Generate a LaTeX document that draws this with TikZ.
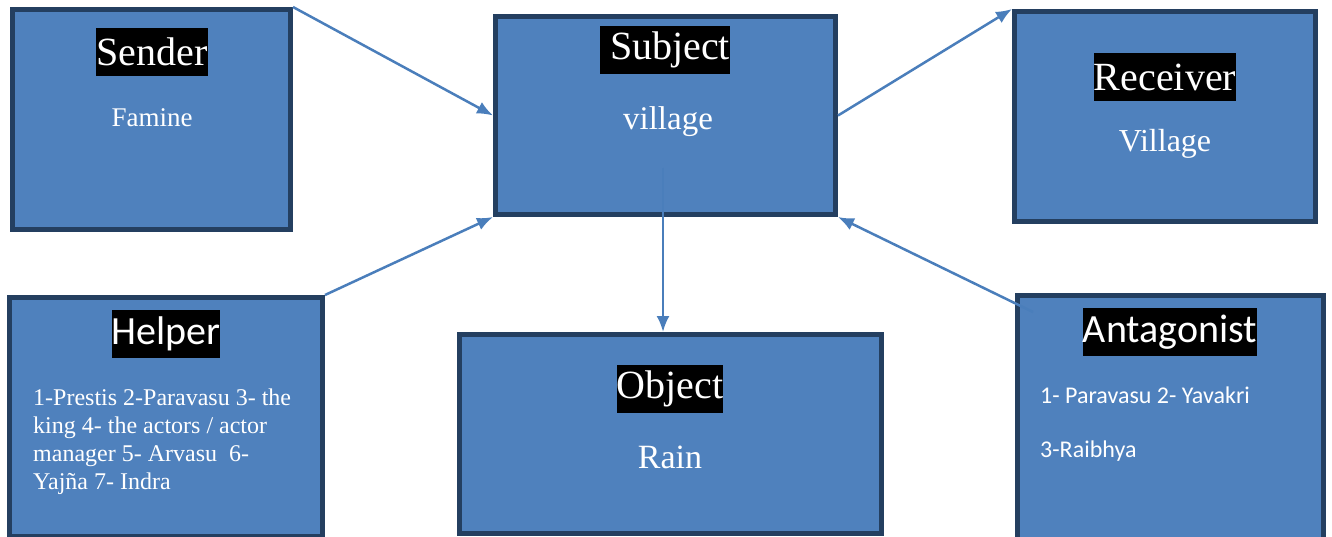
\documentclass[tikz,border=0pt]{standalone}
\usepackage{fontspec}
\setmainfont{Liberation Serif}
\newfontfamily\calibrifont{Carlito}
\usetikzlibrary{positioning}
\usetikzlibrary{arrows.meta}
\definecolor{boxfill}{HTML}{4F81BD}
\definecolor{boxline}{HTML}{243F60}
\definecolor{arrowblue}{HTML}{4A7EBB}
\tikzset{%
	>={Latex[width=13pt,length=16pt]},
	% Specifications for style of nodes:
	actant/.style = {rectangle, draw=boxline, line width=5pt, fill=boxfill, inner sep=0pt},
	title/.style = {fill=black, text=white, inner sep=0pt, minimum height=48pt, font=\fontsize{40}{48}\selectfont},
	sanstitle/.style = {title, font=\calibrifont\fontsize{40}{48}\selectfont},
	value/.style = {text=white, inner sep=0pt, font=\fontsize{32}{38}\selectfont},
	list/.style = {text=white, inner sep=0pt, align=left, font=\fontsize{24}{28}\selectfont},
	link/.style = {draw=arrowblue, line width=2.5pt, ->},
}

\begin{document}
\begin{tikzpicture}[x=1pt,y=-1pt]
		\clip (0,0) rectangle (1332,537);
		\useasboundingbox (0,0) rectangle (1332,537);

		\node (Sender) [actant, minimum width=278pt, minimum height=220pt] at (151.5,119.5) {};
		\node (Subject) [actant, minimum width=340pt, minimum height=198pt] at (665.5,115.5) {};
		\node (Receiver) [actant, minimum width=301pt, minimum height=210pt] at (1165,116.5) {};
		\node (Helper) [actant, minimum width=313pt, minimum height=239pt] at (166,417) {};
		\node (Object) [actant, minimum width=422pt, minimum height=199pt] at (670.5,434) {};
		\node (Antagonist) [actant, minimum width=306pt, minimum height=247pt] at (1170.5,419) {};

		\node (SenderT) [title] at (152,52) {Sender};
		\node (SenderV) [value, font=\fontsize{27}{32}\selectfont, anchor=base] at (152,127) {Famine};

		\node (SubjectT) [title] at (665,50) {\ Subject};
		\node (SubjectV) [value, font=\fontsize{33}{38}\selectfont, anchor=base] at (668,130) {village};

		\node (ReceiverT) [title] at (1165,77) {Receiver};
		\node (ReceiverV) [value, anchor=base] at (1165,152) {Village};

		\node (ObjectT) [title] at (670,389) {Object};
		\node (ObjectV) [value, font=\fontsize{34}{40}\selectfont, anchor=base] at (670,468) {Rain};

		\node (HelperT) [sanstitle] at (166,334) {Helper};
		\node (HelperV) [list, anchor=north west] at (33,389) {1-Prestis 2-Paravasu 3- the\\king 4- the actors / actor\\manager 5- Arvasu \ 6-\\Yaj\~na 7- Indra};

		\node (AntagonistT) [sanstitle] at (1170,332) {Antagonist};
		\node (AntagonistV) [list, font=\calibrifont\fontsize{24}{28}\selectfont, anchor=base west] at (1040,403) {1- Paravasu 2- Yavakri};
		\node (AntagonistW) [list, font=\calibrifont\fontsize{24}{28}\selectfont, anchor=base west] at (1040,457) {3-Raibhya};

		\coordinate (SubjectFoot) at (663,168);
		\coordinate (AntagonistFoot) at (1033,312);

		\draw [link] (Sender.north east) -- (Subject.west);
		\draw [link] (Helper.north east) -- (Subject.south west);
		\draw [link] (Subject.east) -- (Receiver.north west);
		\draw [link] (AntagonistFoot) -- (Subject.south east);
		\draw [link] (SubjectFoot) -- (SubjectFoot |- Object.north);

     \end{tikzpicture}
\end{document}
